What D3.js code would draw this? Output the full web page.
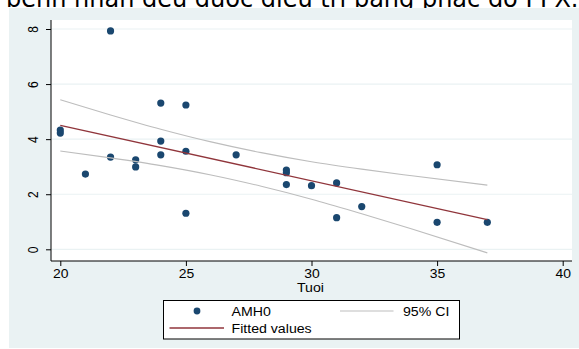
<!DOCTYPE html>
<html>
<head>
<meta charset="utf-8">
<script src="https://cdn.jsdelivr.net/npm/d3@7"></script>
<style>
	body { margin: 0; background: #ffffff; }
	svg { display: block; }
</style>
</head>
<body>
<div id="chart"></div>
<script>
// Observations: age (Tuoi) and AMH0 for each patient
const ageValues = [22, 24, 25, 20, 20, 24, 25, 22, 23, 24, 23, 21, 25, 27, 29, 29, 29, 30, 31, 31, 32, 35, 35, 37];
const amhValues = [7.93, 5.31, 5.24, 4.33, 4.22, 3.93, 3.56, 3.35, 3.25, 3.43, 2.99, 2.73, 1.31, 3.43, 2.88, 2.78, 2.35, 2.31, 2.41, 1.15, 1.55, 3.07, 0.98, 0.98];

// Fitted line (end points)
const fitAges = [20, 37];
const fitValues = [4.50, 1.08];

// 95% confidence band
const ciAges = [20, 22, 24, 26, 28, 30, 32, 34, 37];
const ciUpper = [5.43, 4.88, 4.36, 3.90, 3.51, 3.18, 2.91, 2.67, 2.33];
const ciLower = [3.57, 3.32, 3.04, 2.70, 2.29, 1.82, 1.29, 0.74, -0.13];

// Axis ticks and texts
const xTicks = [20, 25, 30, 35, 40];
const yTicks = [0, 2, 4, 6, 8];
const xTitle = "Tuoi";
const legendLabels = ["AMH0", "95% CI", "Fitted values"];
const headerText = "bệnh nhân đều được điều trị bằng phác đồ PPX.";

class FitScatterPlot {
	constructor(targetElementName) {
		this.targetElement = d3.select(`#${targetElementName}`);

		// Stata colours (s2color)
		this.colors = { "background": "#eaf2f3", "dot": "#1a476f", "fit": "#90353b", "ci": "#bdbdbd" };

		// Stata graphs pasted into documents come out a little stretched sideways
		this.stretch = 1.16;

		this.initPlot();
		this.drawAxes();
		this.drawPoints();
		this.drawLines();
		this.drawLegend();
	}

	initPlot() {
		this.svg = this.targetElement.append("svg")
									 .attr("width", 579)
									 .attr("height", 349);

		// The cut off line of document text above the graph
		this.svg.append("text")
				.attr("x", 6)
				.attr("y", 6.5)
				.style("font-family", "DejaVu Sans")
				.style("font-size", "24px")
				.attr("fill", "#000")
				.text(headerText);

		// Graph region
		this.svg.append("rect")
				.attr("x", 9).attr("y", 8)
				.attr("width", 570).attr("height", 340)
				.attr("fill", this.colors["background"]);

		// Plot region
		this.plot = { "left": 51, "right": 572, "top": 20, "bottom": 261 };
		this.svg.append("rect")
				.attr("x", this.plot.left).attr("y", this.plot.top)
				.attr("width", this.plot.right - this.plot.left)
				.attr("height", this.plot.bottom - this.plot.top)
				.attr("fill", "#ffffff");

		this.x = d3.scaleLinear().domain([20, 40]).range([60.3, 562.7]);
		this.y = d3.scaleLinear().domain([0, 8]).range([249.3, 29]);
	}

	drawAxes() {
		// Horizontal grid lines
		this.svg.append("g")
				.selectAll("line")
				.data(yTicks)
				.enter()
				.append("line")
				.attr("x1", this.plot.left).attr("x2", this.plot.right)
				.attr("y1", d => this.y(d)).attr("y2", d => this.y(d))
				.attr("stroke", this.colors["background"])
				.attr("stroke-width", 1.2);

		const yAxis = this.svg.append("g")
							  .attr("transform", `translate(${this.plot.left},0)`)
							  .call(d3.axisLeft(this.y).tickValues(yTicks).tickSize(5).tickSizeOuter(0));
		const xAxis = this.svg.append("g")
							  .attr("transform", `translate(0,${this.plot.bottom})`)
							  .call(d3.axisBottom(this.x).tickValues(xTicks).tickSize(5).tickSizeOuter(0));

		// Replace the domain paths by lines along the plot region
		yAxis.select(".domain").remove();
		xAxis.select(".domain").remove();
		[yAxis, xAxis].forEach(axis => axis.selectAll("line").attr("stroke", "#000"));

		this.svg.append("line")
				.attr("x1", this.plot.left).attr("x2", this.plot.left)
				.attr("y1", this.plot.top).attr("y2", this.plot.bottom)
				.attr("stroke", "#000");
		this.svg.append("line")
				.attr("x1", this.plot.left).attr("x2", this.plot.right)
				.attr("y1", this.plot.bottom).attr("y2", this.plot.bottom)
				.attr("stroke", "#000");

		// Y labels are turned on their side, as Stata does
		yAxis.selectAll(".tick text")
			 .attr("x", 0).attr("y", 0).attr("dy", null)
			 .attr("text-anchor", "middle")
			 .attr("transform", `translate(-13.5,0) scale(${this.stretch},1) rotate(-90)`);

		xAxis.selectAll(".tick text")
			 .attr("y", 0).attr("dy", null)
			 .attr("transform", `translate(0,17) scale(${this.stretch},1)`);

		[yAxis, xAxis].forEach(axis => axis.selectAll("text")
										   .style("font-family", "Liberation Sans")
										   .style("font-size", "12px")
										   .attr("fill", "#000"));

		this.stretchedText(this.x(30) - 1, 291.5, xTitle, "middle", 12.2);
	}

	stretchedText(x, y, label, anchor, size) {
		return this.svg.append("text")
					   .attr("transform", `translate(${x},${y}) scale(${this.stretch},1)`)
					   .attr("text-anchor", anchor)
					   .style("font-family", "Liberation Sans")
					   .style("font-size", `${size}px`)
					   .attr("fill", "#000")
					   .text(label);
	}

	drawPoints() {
		this.svg.append("g")
				.selectAll("circle")
				.data(ageValues)
				.enter()
				.append("circle")
				.attr("cx", d => this.x(d))
				.attr("cy", (d, i) => this.y(amhValues[i]))
				.attr("r", 3.6)
				.attr("fill", this.colors["dot"]);
	}

	drawLines() {
		const line = d3.line()
					   .x(d => this.x(d[0]))
					   .y(d => this.y(d[1]))
					   .curve(d3.curveMonotoneX);

		[ciUpper, ciLower].forEach(band => {
			this.svg.append("path")
					.datum(ciAges.map((a, i) => [a, band[i]]))
					.attr("d", line)
					.attr("fill", "none")
					.attr("stroke", this.colors["ci"])
					.attr("stroke-width", 1.1);
		});

		this.svg.append("path")
				.datum(fitAges.map((a, i) => [a, fitValues[i]]))
				.attr("d", line)
				.attr("fill", "none")
				.attr("stroke", this.colors["fit"])
				.attr("stroke-width", 1.3);
	}

	drawLegend() {
		this.svg.append("rect")
				.attr("x", 163.5).attr("y", 300.5)
				.attr("width", 296).attr("height", 38.5)
				.attr("fill", "#ffffff")
				.attr("stroke", "#000")
				.attr("stroke-width", 1);

		// Row 1: marker + AMH0, CI line + label
		this.svg.append("circle")
				.attr("cx", 197).attr("cy", 311)
				.attr("r", 3.4)
				.attr("fill", this.colors["dot"]);
		this.stretchedText(231.5, 315.5, legendLabels[0], "start", 12.2);

		this.svg.append("line")
				.attr("x1", 340).attr("x2", 393.5)
				.attr("y1", 311).attr("y2", 311)
				.attr("stroke", this.colors["ci"])
				.attr("stroke-width", 1.1);
		this.stretchedText(403, 315.5, legendLabels[1], "start", 12.2);

		// Row 2: fitted line
		this.svg.append("line")
				.attr("x1", 169.5).attr("x2", 224)
				.attr("y1", 328).attr("y2", 328)
				.attr("stroke", this.colors["fit"])
				.attr("stroke-width", 1.3);
		this.stretchedText(231.5, 332.5, legendLabels[2], "start", 12.2);
	}
}

new FitScatterPlot("chart");
</script>
</body>
</html>
